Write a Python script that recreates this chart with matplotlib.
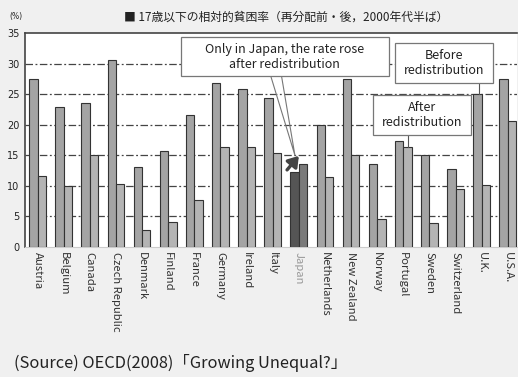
import matplotlib
matplotlib.use("Agg")
import matplotlib.pyplot as plt
import numpy as np
from matplotlib.patches import Rectangle

countries = ["Austria", "Belgium", "Canada", "Czech Republic", "Denmark", "Finland",
             "France", "Germany", "Ireland", "Italy", "Japan", "Netherlands",
             "New Zealand", "Norway", "Portugal", "Sweden", "Switzerland", "U.K.", "U.S.A."]
before = [27.4, 22.9, 23.6, 30.6, 13.1, 15.7, 21.6, 26.9, 25.8, 24.3, 12.2, 20.0,
          27.4, 13.6, 17.3, 15.0, 12.7, 25.0, 27.4]
after = [11.6, 10.0, 15.0, 10.3, 2.8, 4.1, 7.7, 16.3, 16.3, 15.4, 13.6, 11.4,
         15.0, 4.6, 16.4, 3.9, 9.4, 10.1, 20.6]
yticks = [0, 5, 10, 15, 20, 25, 30, 35]
title = "■ 17歳以下の相対的貧困率（再分配前・後，2000年代半ば）"
source = "(Source) OECD(2008)「Growing Unequal?」"
note_japan = "Only in Japan, the rate rose\nafter redistribution"
note_before = "Before\nredistribution"
note_after = "After\nredistribution"

FONT = ["Noto Sans CJK JP", "DejaVu Sans"]
plt.rcParams['font.family'] = FONT

fig = plt.figure(figsize=(5.18, 3.77), dpi=100, facecolor="#f0f0f0")
ax = fig.add_axes([0.0483, 0.345, 0.9497, 0.5675])
ax.set_facecolor("white")

x = np.arange(len(countries))
w = 0.32
bc = ["#555555" if c == "Japan" else "#a4a4a4" for c in countries]
ac = ["#7a7a7a" if c == "Japan" else "#b4b4b4" for c in countries]
ax.bar(x - w / 2, before, w, color=bc, edgecolor="#333333", linewidth=0.8, zorder=3)
ax.bar(x + w / 2, after, w, color=ac, edgecolor="#333333", linewidth=0.8, zorder=3)

ax.set_xlim(-0.48, 18.35)
ax.set_ylim(0, 35)
ax.set_yticks(yticks)
ax.set_yticklabels([str(t) for t in yticks], fontsize=7, color="#222222", family="DejaVu Sans")
ax.tick_params(axis="y", length=0, pad=4)
for t in yticks[1:-1]:
    ax.axhline(t, color="#444444", lw=0.9, ls=(0, (6, 2, 1.5, 2)), zorder=1)

ax.set_xticks(x)
ax.set_xticklabels(countries, rotation=-90, fontsize=8.1, va="top", ha="center")
for lbl, c in zip(ax.get_xticklabels(), countries):
    lbl.set_color("#999999" if c == "Japan" else "#333333")
ax.tick_params(axis="x", length=0, pad=4)

ax.spines["right"].set_visible(False)
ax.spines["top"].set_color("#444444")
ax.spines["top"].set_linewidth(1.2)
ax.spines["left"].set_color("#444444")
ax.spines["left"].set_linewidth(1.2)
ax.spines["bottom"].set_color("#cccccc")
ax.spines["bottom"].set_linewidth(0.8)

# annotation boxes
def box(x0, x1, y0, y1, txt):
    ax.add_patch(Rectangle((x0, y0), x1 - x0, y1 - y0, facecolor="white",
                           edgecolor="#777777", lw=0.9, zorder=6, clip_on=False))
    ax.text((x0 + x1) / 2, (y0 + y1) / 2, txt, ha="center", va="center",
            fontsize=9, color="#222222", zorder=7, linespacing=1.2)

box(5.49, 13.44, 27.9, 34.4, note_japan)
box(13.67, 17.42, 26.75, 33.3, note_before)
box(12.83, 16.58, 18.27, 24.8, note_after)

# connectors
ax.plot([16.88, 16.88], [25.0, 26.75], color="#555555", lw=0.8, zorder=5)
ax.plot([14.17, 14.17], [16.4, 18.27], color="#555555", lw=0.8, zorder=5)

# Japan arrow (thin wedge + arrowhead)
ax.plot([8.93, 9.85, 9.34], [27.9, 15.0, 27.9], color="#777777", lw=0.8, zorder=5)
ax.annotate("", xy=(10.0, 14.9), xytext=(9.55, 12.6),
            arrowprops=dict(arrowstyle="-|>,head_width=0.4,head_length=0.6",
                            color="#444444", lw=2.4, shrinkA=0, shrinkB=0), zorder=6)

fig.text(0.553, 0.955, title, ha="center", va="center", fontsize=8.5, color="#222222")
fig.text(0.019, 0.955, "(%)", ha="left", va="center", fontsize=5.5, color="#222222",
         family="DejaVu Sans")
fig.text(0.027, 0.037, source, ha="left", va="center", fontsize=11.8, color="#222222")

fig.savefig("out.png", dpi=100, facecolor=fig.get_facecolor())
